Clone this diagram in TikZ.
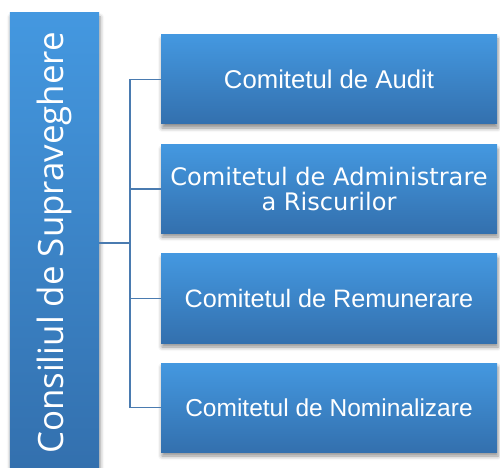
\documentclass[tikz,border=0pt]{standalone}
\usepackage{fontspec}
\setmainfont{Liberation Sans}
\newfontfamily\verdfont{DejaVu Sans}
\newfontfamily\segfont{Open Sans}
\usetikzlibrary{shadows.blur}
\definecolor{topblue}{HTML}{4498E0}
\definecolor{botblue}{HTML}{3370AE}
\definecolor{linkblue}{HTML}{4A7BB0}
\tikzset{
  box/.style={rectangle, inner sep=0pt, text=white, align=center,
    top color=topblue, bottom color=botblue,
    blur shadow={shadow xshift=1bp, shadow yshift=-4bp, shadow blur radius=4bp, shadow opacity=45}},
  rbox/.style={box, minimum width=336bp, minimum height=89bp, font=\fontsize{25.8}{28}\selectfont},
  link/.style={draw=linkblue, line width=1.3pt}
}
\begin{document}
\begin{tikzpicture}[x=1bp,y=-1bp]
\useasboundingbox (0,0) rectangle (500,468);
\node[box, minimum width=89bp, minimum height=455bp] (L) at (54.5,240.5) {};
\node[text=white, rotate=90, font=\segfont\fontsize{35}{40}\selectfont, inner sep=0pt] (LT) at (54,243) {Consiliul de Supraveghere};
\node[rbox] (A) at (329,79.5) {Comitetul de Audit};
\node[rbox, minimum height=88bp, font=\verdfont\fontsize{24.2}{26}\selectfont] (B) at (329,189) {Comitetul de Administrare\\a Riscurilor};
\node[rbox, font=\fontsize{25.3}{28}\selectfont] (C) at (329,298.5) {Comitetul de Remunerare};
\node[rbox, font=\fontsize{24.6}{28}\selectfont] (D) at (329,407.5) {Comitetul de Nominalizare};
\coordinate (J) at (130,243);
\draw[link] (L.east |- J) -- (J);
\draw[link] (A.west) -- (A.west -| J) -- (D.west -| J) -- (D.west);
\draw[link] (B.west) -- (B.west -| J);
\draw[link] (C.west) -- (C.west -| J);
\end{tikzpicture}
\end{document}
